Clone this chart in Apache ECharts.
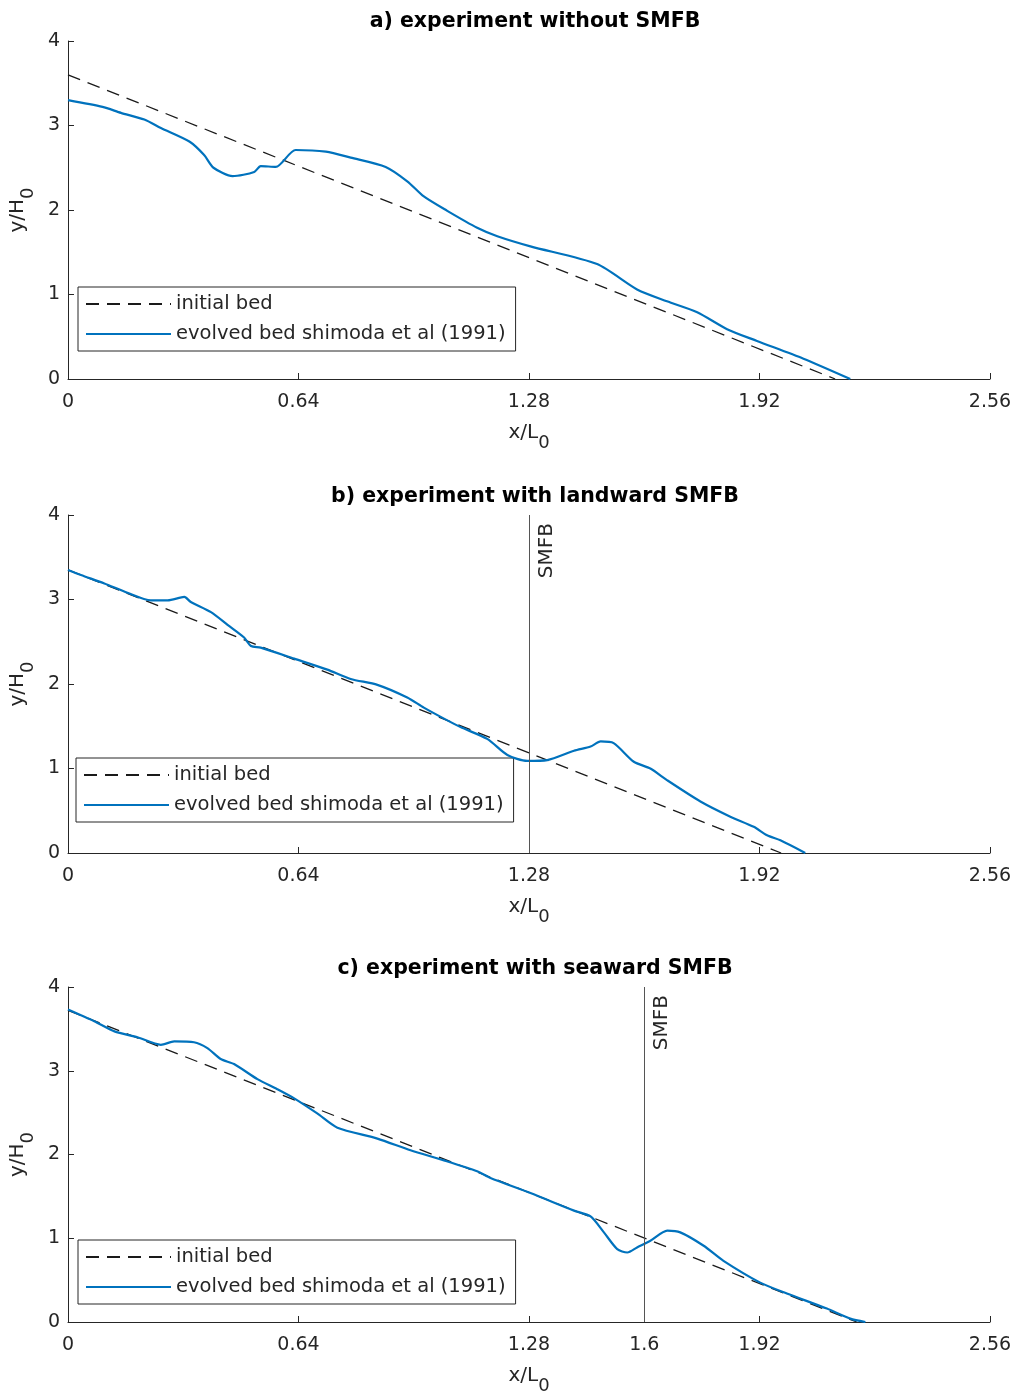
<!DOCTYPE html>
<html>
<head>
<meta charset="utf-8">
<script src="https://cdn.jsdelivr.net/npm/echarts@6/dist/echarts.min.js"></script>
<style>
html,body{margin:0;padding:0;background:#fff;}
#chart{width:1019px;height:1396px;}
</style>
</head>
<body>
<div id="chart"></div>
<script>
// ---------- data ----------
const xTicksAB = [0, 0.64, 1.28, 1.92, 2.56];
const xTicksC = [0, 0.64, 1.28, 1.6, 1.92, 2.56];
const yTicks = [0, 1, 2, 3, 4];

const titles = ['a) experiment without SMFB', 'b) experiment with landward SMFB', 'c) experiment with seaward SMFB'];
const seriesNames = ['initial bed', 'evolved bed shimoda et al (1991)'];
const smfbPositions = [null, 1.28, 1.6];

const initA_x = [0, 2.13];
const initA_y = [3.6, 0];
const initB_x = [0, 1.98];
const initB_y = [3.35, 0];
const initC_x = [0, 2.19];
const initC_y = [3.72, 0];

const bedA_x = [0, 0.096, 0.147, 0.212, 0.258, 0.337, 0.378, 0.404, 0.457, 0.517, 0.535, 0.577, 0.632, 0.716, 0.785, 0.882, 0.942, 0.988, 1.053, 1.136, 1.192, 1.284, 1.469, 1.580, 1.663, 1.747, 1.830, 1.913, 2.042, 2.172];
const bedA_y = [3.30, 3.22, 3.15, 3.07, 2.97, 2.81, 2.65, 2.50, 2.40, 2.45, 2.52, 2.51, 2.71, 2.69, 2.62, 2.51, 2.34, 2.16, 1.99, 1.79, 1.69, 1.57, 1.36, 1.06, 0.92, 0.79, 0.59, 0.45, 0.24, 0.0];

const bedB_x = [0, 0.036, 0.101, 0.165, 0.230, 0.277, 0.323, 0.341, 0.397, 0.443, 0.489, 0.508, 0.535, 0.628, 0.720, 0.785, 0.859, 0.942, 0.988, 1.044, 1.090, 1.164, 1.220, 1.275, 1.331, 1.405, 1.451, 1.479, 1.515, 1.571, 1.617, 1.664, 1.756, 1.839, 1.904, 1.941, 1.978, 2.047];
const bedB_y = [3.35, 3.29, 3.19, 3.08, 2.99, 2.99, 3.03, 2.97, 2.85, 2.70, 2.55, 2.45, 2.43, 2.30, 2.17, 2.06, 1.99, 1.84, 1.72, 1.59, 1.49, 1.35, 1.16, 1.09, 1.10, 1.21, 1.26, 1.32, 1.30, 1.08, 1.00, 0.86, 0.61, 0.43, 0.31, 0.21, 0.15, 0.0];

const bedC_x = [0, 0.073, 0.129, 0.193, 0.258, 0.295, 0.350, 0.387, 0.424, 0.461, 0.526, 0.581, 0.628, 0.692, 0.748, 0.859, 0.951, 1.044, 1.136, 1.173, 1.284, 1.405, 1.451, 1.488, 1.525, 1.553, 1.580, 1.617, 1.664, 1.700, 1.765, 1.820, 1.922, 1.996, 2.107, 2.172, 2.214];
const bedC_y = [3.73, 3.59, 3.47, 3.40, 3.31, 3.35, 3.34, 3.27, 3.14, 3.08, 2.90, 2.78, 2.67, 2.49, 2.32, 2.19, 2.05, 1.93, 1.80, 1.72, 1.54, 1.33, 1.26, 1.07, 0.87, 0.83, 0.89, 0.97, 1.09, 1.07, 0.91, 0.73, 0.47, 0.34, 0.16, 0.04, 0.0];

// ---------- build ----------
const FONT = "'DejaVu Sans', sans-serif";
const AX = '#262626';
const zip = (xs, ys) => xs.map((x, i) => [x, ys[i]]);

const panels = [
  { top: 41, init: zip(initA_x, initA_y), bed: zip(bedA_x, bedA_y), xt: xTicksAB, titleTop: 6, legLeft: 78, legTop: 287 },
  { top: 515, init: zip(initB_x, initB_y), bed: zip(bedB_x, bedB_y), xt: xTicksAB, titleTop: 481, legLeft: 76, legTop: 758 },
  { top: 987, init: zip(initC_x, initC_y), bed: zip(bedC_x, bedC_y), xt: xTicksC, titleTop: 953, legLeft: 78, legTop: 1240 }
];
const H = 338;

const option = {
  animation: false,
  backgroundColor: '#fff',
  textStyle: { fontFamily: FONT },
  title: [], grid: [], xAxis: [], yAxis: [], series: [], legend: []
};

panels.forEach((p, i) => {
  option.title.push({
    text: titles[i], left: 530, top: p.titleTop, textAlign: 'center',
    textStyle: { fontFamily: FONT, fontWeight: 'bold', fontSize: 20.5, color: '#000' }
  });
  option.grid.push({ left: 67, width: 923, top: p.top, height: H });
  option.xAxis.push({
    type: 'value', gridIndex: i, min: 0, max: 2.56, interval: 0.32,
    name: '{m|x/L}{s|0}', nameLocation: 'middle', nameGap: 35,
    nameTextStyle: { rich: {
      m: { fontFamily: FONT, fontSize: 20, color: AX },
      s: { fontFamily: FONT, fontSize: 18, color: AX, padding: [20, 0, 0, 0] }
    } },
    axisLine: { show: true, onZero: false, lineStyle: { color: AX, width: 1 } },
    axisTick: { show: true, inside: true, length: 6, customValues: p.xt, lineStyle: { color: AX } },
    axisLabel: { customValues: p.xt, margin: 14, fontFamily: FONT, fontSize: 19, color: AX,
      formatter: v => String(Math.round(v * 100) / 100) },
    splitLine: { show: false }
  });
  option.yAxis.push({
    type: 'value', gridIndex: i, min: 0, max: 4, interval: 1,
    name: '{m|y/H}{s|0}', nameLocation: 'middle', nameGap: 26, nameRotate: 90,
    nameTextStyle: { rich: {
      m: { fontFamily: FONT, fontSize: 20, color: AX },
      s: { fontFamily: FONT, fontSize: 18, color: AX, padding: [20, 0, 0, 0] }
    } },
    axisLine: { show: true, onZero: false, lineStyle: { color: AX, width: 1 } },
    axisTick: { show: true, inside: true, length: 6, customValues: yTicks, lineStyle: { color: AX } },
    axisLabel: { customValues: yTicks, margin: 8, fontFamily: FONT, fontSize: 19, color: AX },
    splitLine: { show: false }
  });
  option.series.push({
    name: seriesNames[0], type: 'line', xAxisIndex: i, yAxisIndex: i,
    data: p.init, symbol: 'none', showSymbol: false,
    lineStyle: { color: '#1a1a1a', width: 1.3, type: [13, 8] },
    itemStyle: { color: '#1a1a1a' }, z: 3
  });
  const bed = {
    name: seriesNames[1], type: 'line', xAxisIndex: i, yAxisIndex: i,
    data: p.bed, symbol: 'none', showSymbol: false, smooth: 0.25,
    lineStyle: { color: '#0072BD', width: 2.2 },
    itemStyle: { color: '#0072BD' }, z: 4
  };
  if (smfbPositions[i] !== null) {
    bed.markLine = {
      silent: true, symbol: ['none', 'none'], animation: false,
      lineStyle: { color: '#555', width: 1, type: 'solid' },
      label: { show: true, formatter: 'SMFB', position: 'insideEndBottom', distance: 8,
        fontFamily: FONT, fontSize: 20, color: AX },
      data: [{ xAxis: smfbPositions[i] }]
    };
  }
  option.series.push(bed);
  option.legend.push({
    data: seriesNames, orient: 'vertical', left: p.legLeft, top: p.legTop,
    itemWidth: 85, itemHeight: 14, itemGap: 10,
    itemStyle: { opacity: 0 },
    padding: [7, 10, 7, 7], borderColor: AX, borderWidth: 1, backgroundColor: '#fff',
    textStyle: { fontFamily: FONT, fontSize: 19.5, color: AX },
    selectedMode: false
  });
});

const chart = echarts.init(document.getElementById('chart'), null, { renderer: 'canvas' });
chart.setOption(option);
</script>
</body>
</html>
